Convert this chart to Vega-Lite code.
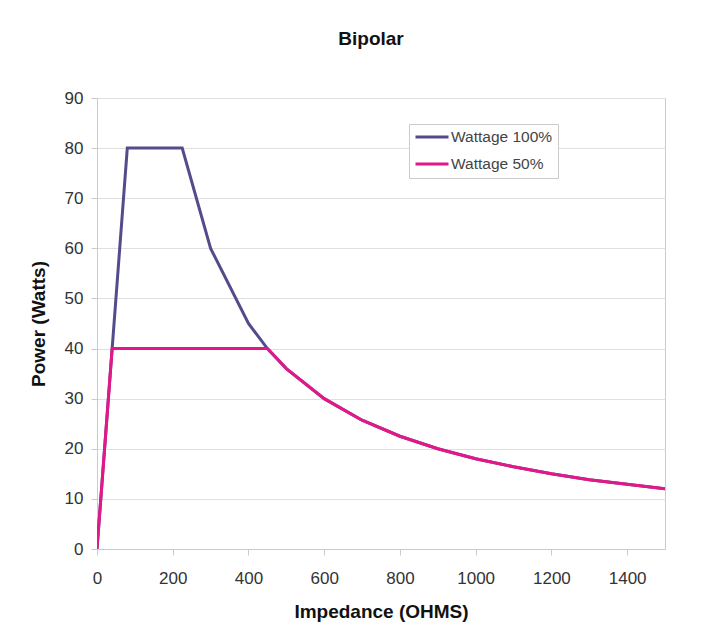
{
  "$schema": "https://vega.github.io/schema/vega-lite/v6.json",
  "autosize": "none",
  "width": 568,
  "height": 451,
  "padding": {"left": 97, "top": 98, "right": 55, "bottom": 89},
  "background": "white",
  "title": {
    "text": "Bipolar",
    "font": "Liberation Sans",
    "fontSize": 19,
    "fontWeight": "bold",
    "color": "#111",
    "anchor": "middle",
    "dx": -10,
    "offset": 40
  },
  "config": {
    "view": {"stroke": "#cfcaca", "strokeWidth": 1},
    "axis": {
      "labelFont": "Liberation Sans",
      "labelFontSize": 17,
      "labelColor": "#333",
      "titleFont": "Liberation Sans",
      "titleFontSize": 19,
      "titleFontWeight": "bold",
      "titleColor": "#111",
      "domainColor": "#cfcaca",
      "tickColor": "#cfcaca",
      "gridColor": "#e3dede",
      "tickSize": 6,
      "format": "d",
      "labelFlush": false
    }
  },
  "data": {
    "values": [
      {"ohms": 0, "watts": 0, "series": "Wattage 100%"},
      {"ohms": 80, "watts": 80, "series": "Wattage 100%"},
      {"ohms": 225, "watts": 80, "series": "Wattage 100%"},
      {"ohms": 300, "watts": 60, "series": "Wattage 100%"},
      {"ohms": 400, "watts": 45, "series": "Wattage 100%"},
      {"ohms": 450, "watts": 40, "series": "Wattage 100%"},
      {"ohms": 500, "watts": 36, "series": "Wattage 100%"},
      {"ohms": 600, "watts": 30, "series": "Wattage 100%"},
      {"ohms": 700, "watts": 25.7, "series": "Wattage 100%"},
      {"ohms": 800, "watts": 22.5, "series": "Wattage 100%"},
      {"ohms": 900, "watts": 20, "series": "Wattage 100%"},
      {"ohms": 1000, "watts": 18, "series": "Wattage 100%"},
      {"ohms": 1100, "watts": 16.4, "series": "Wattage 100%"},
      {"ohms": 1200, "watts": 15, "series": "Wattage 100%"},
      {"ohms": 1300, "watts": 13.8, "series": "Wattage 100%"},
      {"ohms": 1400, "watts": 12.9, "series": "Wattage 100%"},
      {"ohms": 1500, "watts": 12, "series": "Wattage 100%"},
      {"ohms": 0, "watts": 0, "series": "Wattage 50%"},
      {"ohms": 40, "watts": 40, "series": "Wattage 50%"},
      {"ohms": 450, "watts": 40, "series": "Wattage 50%"},
      {"ohms": 500, "watts": 36, "series": "Wattage 50%"},
      {"ohms": 600, "watts": 30, "series": "Wattage 50%"},
      {"ohms": 700, "watts": 25.7, "series": "Wattage 50%"},
      {"ohms": 800, "watts": 22.5, "series": "Wattage 50%"},
      {"ohms": 900, "watts": 20, "series": "Wattage 50%"},
      {"ohms": 1000, "watts": 18, "series": "Wattage 50%"},
      {"ohms": 1100, "watts": 16.4, "series": "Wattage 50%"},
      {"ohms": 1200, "watts": 15, "series": "Wattage 50%"},
      {"ohms": 1300, "watts": 13.8, "series": "Wattage 50%"},
      {"ohms": 1400, "watts": 12.9, "series": "Wattage 50%"},
      {"ohms": 1500, "watts": 12, "series": "Wattage 50%"}
    ]
  },
  "mark": {"type": "line", "strokeWidth": 3, "clip": true},
  "encoding": {
    "x": {
      "field": "ohms",
      "type": "quantitative",
      "scale": {"domain": [0, 1500], "nice": false},
      "axis": {
        "title": "Impedance (OHMS)",
        "values": [0, 200, 400, 600, 800, 1000, 1200, 1400],
        "grid": false,
        "labelPadding": 15,
        "titlePadding": 16
      }
    },
    "y": {
      "field": "watts",
      "type": "quantitative",
      "scale": {"domain": [0, 90], "nice": false},
      "axis": {
        "title": "Power (Watts)",
        "values": [0, 10, 20, 30, 40, 50, 60, 70, 80, 90],
        "grid": true,
        "labelPadding": 8,
        "titlePadding": 16
      }
    },
    "color": {
      "field": "series",
      "type": "nominal",
      "scale": {"domain": ["Wattage 100%", "Wattage 50%"], "range": ["#524c8c", "#e3178a"]},
      "legend": {
        "title": null,
        "orient": "none",
        "legendX": 312,
        "legendY": 26,
        "strokeColor": "#cfcaca",
        "fillColor": "white",
        "padding": 5,
        "symbolType": "stroke",
        "symbolSize": 1089,
        "symbolStrokeWidth": 3,
        "clipHeight": 16,
        "labelFont": "Liberation Sans",
        "labelFontSize": 15.5,
        "labelColor": "#444",
        "rowPadding": 10,
        "labelOffset": 1
      }
    },
    "order": {"field": "ohms", "type": "quantitative"}
  }
}
